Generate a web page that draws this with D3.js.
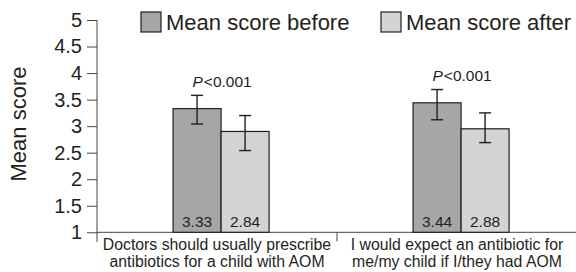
<!DOCTYPE html>
<html>
<head>
<meta charset="utf-8">
<script src="https://cdn.jsdelivr.net/npm/d3@7"></script>
<style>
  body { margin: 0; background: #fff; }
  svg text { font-family: "Liberation Sans", Arial, Helvetica, sans-serif; fill: #231f20; }
</style>
</head>
<body>
<div id="chart"></div>
<script>
// data
var categories = [
    ["Doctors should usually prescribe", "antibiotics for a child with AOM"],
    ["I would expect an antibiotic for", "me/my child if I/they had AOM"]
];
var series = ["Mean score before", "Mean score after"];
var beforeValues = [3.33, 3.44];
var afterValues = [2.90, 2.95];
var beforeUpper = [3.58, 3.69];
var beforeLower = [3.04, 3.12];
var afterUpper = [3.20, 3.25];
var afterLower = [2.54, 2.69];
var beforeLabels = ["3.33", "3.44"];
var afterLabels = ["2.84", "2.88"];
var pLabels = ["<0.001", "<0.001"];
var yTicks = [1, 1.5, 2, 2.5, 3, 3.5, 4, 4.5, 5];

var colors = ["#a6a6a9", "#d3d4d6"];

var width = 576, height = 272;
var margin = {top: 20, right: 0, bottom: 40, left: 97};
var w = width - margin.left - margin.right + 1;
var h = height - margin.top - margin.bottom;

var svg = d3.select("#chart").append("svg")
    .attr("width", width)
    .attr("height", height);

var g = svg.append("g")
    .attr("transform", "translate(" + margin.left + "," + margin.top + ")");

var keys = categories.map(function(d, i) { return "c" + i; });
var x = d3.scaleBand().domain(keys).range([0, w]);
var x1 = d3.scaleBand().domain(series)
    .range([x.bandwidth() * 0.317, x.bandwidth() * 0.717]);
var y = d3.scaleLinear().domain([1, 5]).range([h + 0.3, 0]);

var rows = keys.map(function(k, i) {
    return [
        {key: k, s: series[0], v: beforeValues[i], hi: beforeUpper[i], lo: beforeLower[i], label: beforeLabels[i], c: colors[0]},
        {key: k, s: series[1], v: afterValues[i], hi: afterUpper[i], lo: afterLower[i], label: afterLabels[i], c: colors[1]}
    ];
});
var flat = d3.merge(rows);

// y axis
var yAxis = g.append("g")
    .call(d3.axisLeft(y).tickValues(yTicks).tickSize(10).tickPadding(5)
        .tickFormat(function(d) { return d; }));
yAxis.select(".domain").attr("d", "M0," + y(5) + "V" + (h + 10)).attr("stroke", "#444");
yAxis.selectAll(".tick line").attr("stroke", "#444");
yAxis.selectAll("text").style("font-size", "20px").attr("fill", "#231f20");

// x axis: line plus ticks at band edges
g.append("line")
    .attr("x1", 0).attr("x2", w)
    .attr("y1", y(1)).attr("y2", y(1))
    .attr("stroke", "#444");
g.selectAll(".edge")
    .data(keys.slice(1))
    .enter().append("line")
    .attr("x1", function(d) { return x(d); })
    .attr("x2", function(d) { return x(d); })
    .attr("y1", y(1)).attr("y2", y(1) + 9)
    .attr("stroke", "#444");

g.selectAll(".cat")
    .data(categories)
    .enter().append("text")
    .attr("text-anchor", "middle")
    .style("font-size", "15.8px")
    .each(function(d, i) {
        var t = d3.select(this);
        d.forEach(function(line, j) {
            t.append("tspan")
                .attr("x", x(keys[i]) + x.bandwidth() / 2)
                .attr("y", y(1) + 17.5 + j * 16.8)
                .text(line);
        });
    });

// bars
g.selectAll(".bar")
    .data(flat)
    .enter().append("rect")
    .attr("x", function(d) { return x(d.key) + x1(d.s); })
    .attr("width", x1.bandwidth())
    .attr("y", function(d) { return y(d.v); })
    .attr("height", function(d) { return y(1) - y(d.v); })
    .attr("fill", function(d) { return d.c; })
    .attr("stroke", "#231f20")
    .attr("stroke-width", 1.2);

g.selectAll(".val")
    .data(flat)
    .enter().append("text")
    .attr("x", function(d) { return x(d.key) + x1(d.s) + x1.bandwidth() / 2; })
    .attr("y", y(1) - 5)
    .attr("text-anchor", "middle")
    .style("font-size", "15.5px")
    .text(function(d) { return d.label; });

// error bars
var eb = g.selectAll(".err")
    .data(flat)
    .enter().append("g")
    .attr("transform", function(d) {
        return "translate(" + (x(d.key) + x1(d.s) + x1.bandwidth() / 2) + ",0)";
    })
    .attr("stroke", "#231f20")
    .attr("stroke-width", 1.4);
eb.append("line").attr("y1", function(d) { return y(d.hi); }).attr("y2", function(d) { return y(d.lo); });
eb.append("line").attr("x1", -6).attr("x2", 6)
    .attr("y1", function(d) { return y(d.hi); }).attr("y2", function(d) { return y(d.hi); });
eb.append("line").attr("x1", -6).attr("x2", 6)
    .attr("y1", function(d) { return y(d.lo); }).attr("y2", function(d) { return y(d.lo); });

// p values
var pt = g.selectAll(".p")
    .data(keys)
    .enter().append("text")
    .attr("x", function(d) { return x(d) + x1(series[1]) + 1; })
    .attr("y", function(d, i) { return y(beforeUpper[i]) - 8.5; })
    .attr("text-anchor", "middle")
    .style("font-size", "15.5px");
pt.append("tspan").style("font-style", "italic").text("P");
pt.append("tspan").attr("dx", 1).text(function(d, i) { return pLabels[i]; });

// y label
svg.append("text")
    .attr("transform", "translate(26," + 124 + ") rotate(-90)")
    .attr("text-anchor", "middle")
    .style("font-size", "22px")
    .text("Mean score");

// legend
var legendX = [141, 381];
var leg = svg.selectAll(".leg")
    .data(series)
    .enter().append("g")
    .attr("transform", function(d, i) { return "translate(" + legendX[i] + ",12)"; });
leg.append("rect")
    .attr("width", 20).attr("height", 20)
    .attr("fill", function(d, i) { return colors[i]; })
    .attr("stroke", "#231f20")
    .attr("stroke-width", 1.2);
leg.append("text")
    .attr("x", 25).attr("y", 18)
    .style("font-size", "22px")
    .text(function(d) { return d; });
</script>
</body>
</html>
